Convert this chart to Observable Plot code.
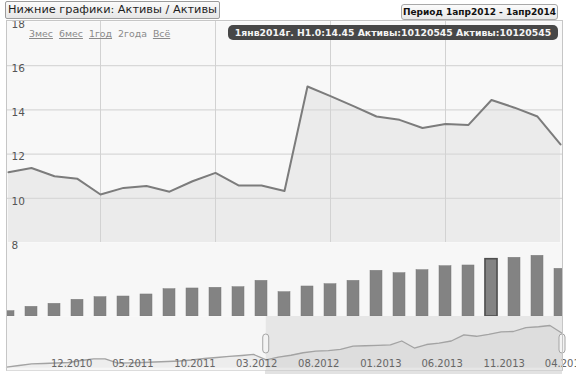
<!DOCTYPE html>
<html><head><meta charset="utf-8">
<script src="https://cdn.jsdelivr.net/npm/d3@7"></script>
<script src="https://cdn.jsdelivr.net/npm/@observablehq/plot@0.6"></script>
<style>
html,body{margin:0;padding:0;background:#fff;overflow:hidden;}
#chart{position:relative;width:576px;height:374px;overflow:hidden;font-family:"DejaVu Sans",Verdana,sans-serif;background:#fff;}
.layer{position:absolute;left:0;}
.layer svg{display:block;}
#frame{position:absolute;left:6px;top:20px;width:555px;height:349px;border:1px solid #c6c6c6;border-bottom-color:#dcdcdc;pointer-events:none;}
#title{position:absolute;left:5px;top:1px;height:16px;padding:0 2px 0 2px;border:1px solid #9c9c9c;border-radius:2px;background:linear-gradient(#fbfbfb,#e6e6e6);font-size:11.3px;line-height:16px;color:#1e1e1e;white-space:nowrap;}
#period{position:absolute;left:401px;top:4px;width:155px;height:14px;border:1px solid #a8a8a8;border-radius:3px;background:linear-gradient(#fbfbfb,#e8e8e8);font-size:9px;font-weight:bold;line-height:14px;text-align:center;color:#111;white-space:nowrap;}
#tip{position:absolute;left:228px;top:25px;width:330px;height:15px;border-radius:5px;background:#474747;color:#f4f4f4;font-size:9.3px;font-weight:bold;line-height:15px;text-align:center;white-space:nowrap;}
#ranges{position:absolute;left:29px;top:28px;font-size:9.4px;line-height:12px;color:#8a8a8a;white-space:nowrap;}
#ranges span{margin-right:6px;text-decoration:underline;}
#ranges span.sel{text-decoration:none;}
#scroll{position:absolute;left:265px;top:370px;width:297px;height:4px;background:#e2e2e2;border-top:1px solid #d2d2d2;}
</style>
</head><body>
<div id="chart"></div>
<script>
// ---- data ----
const months = ["2012-04","2012-05","2012-06","2012-07","2012-08","2012-09","2012-10","2012-11","2012-12",
  "2013-01","2013-02","2013-03","2013-04","2013-05","2013-06","2013-07","2013-08","2013-09","2013-10",
  "2013-11","2013-12","2014-01","2014-02","2014-03","2014-04"];
const h1 = [11.18, 11.37, 11.0, 10.88, 10.17, 10.47, 10.56, 10.3, 10.77, 11.15, 10.58, 10.58, 10.33,
  15.06, 14.62, 14.17, 13.7, 13.55, 13.18, 13.36, 13.32, 14.45, 14.1, 13.7, 12.44];
const assets = [940000, 1710000, 2240000, 2950000, 3410000, 3530000, 3890000, 4820000, 4950000,
  5070000, 5170000, 6300000, 4290000, 5300000, 5700000, 6300000, 8070000, 7650000, 8180000,
  8880000, 9010000, 10120545, 10370000, 10720000, 8420000];
const earlyMonths = ["2010-07","2010-08","2010-09","2010-10","2010-11","2010-12","2011-01","2011-02",
  "2011-03","2011-04","2011-05","2011-06","2011-07","2011-08","2011-09","2011-10","2011-11","2011-12",
  "2012-01","2012-02","2012-03"];
const earlyAssets = [-1170000, -690000, -200000, -110000, 30000, 170000, 740000, 1230000, 1230000,
  -30000, 90000, 170000, 310000, 460000, 600000, 890000, 1310000, 1600000, 1890000, 2170000, 2460000];
const yTicks = [8, 10, 12, 14, 16, 18];
const yGrid = [10, 12, 14, 16];
const xGrid = ["2012-08", "2013-01", "2013-06", "2013-11"];
const navTicks = ["2010-12","2011-05","2011-10","2012-03","2012-08","2013-01","2013-06","2013-11","2014-04"];
const selMonth = "2014-01";
const period = ["2012-04", "2014-04"];
const rangeLinks = ["3мес", "6мес", "1год", "2года", "Всё"];
const selectedRange = "2года";
const titleText = "Нижние графики: Активы / Активы";
const periodText = "Период 1апр2012 - 1апр2014";
const tipText = "1янв2014г. H1.0:14.45 Активы:10120545 Активы:10120545";

// ---- build ----
const rows = months.map((m, i) => ({month: m, h1: h1[i], assets: assets[i]}));
const toDate = s => new Date(s + "-01T00:00:00Z");
const navRows = earlyMonths.map((m, i) => ({date: toDate(m), v: earlyAssets[i]}))
  .concat(months.map((m, i) => ({date: toDate(m), v: assets[i]})));
const W = 576, ML = 6, MR = 14;
const font = {fontFamily: "'DejaVu Sans', Verdana, sans-serif", background: "transparent", overflow: "visible"};
const chart = document.getElementById("chart");
function layer(top, node) {
  const d = document.createElement("div");
  d.className = "layer"; d.style.top = top + "px";
  d.appendChild(node); chart.appendChild(d);
}

// bars panel
const step = (W - ML - MR) / (months.length - 1);
const bars = Plot.plot({
  width: W, height: 74, marginTop: 0, marginBottom: 0, marginLeft: ML, marginRight: MR,
  style: font,
  x: {type: "band", domain: months, range: [ML - step / 2, W - MR + step / 2], paddingInner: 0.48, paddingOuter: 0.24, axis: null},
  y: {domain: [0, 13070000], axis: null},
  marks: [
    Plot.frame({fill: "#f7f7f7"}),
    Plot.barY(rows, {x: "month", y: "assets", fill: "#838383", stroke: "#7a7a7a", strokeWidth: 0.5, clip: true}),
    Plot.barY(rows.filter(d => d.month === selMonth), {x: "month", y: "assets", fill: "#838383", stroke: "#4f4f4f", strokeWidth: 1.6, clip: true})
  ]
});
layer(242, bars);

// navigator
const nav = Plot.plot({
  width: W, height: 54, marginTop: 0, marginBottom: 0, marginLeft: ML, marginRight: MR,
  style: font,
  x: {type: "utc", domain: [toDate(earlyMonths[0]), toDate(months[months.length - 1])], axis: null},
  y: {domain: [-1500000, 11000000], range: [51.86, 8.02], axis: null},
  marks: [
    Plot.frame({fill: "#f6f6f6"}),
    Plot.rect([period], {x1: d => toDate(d[0]), x2: d => toDate(d[1]), fill: "#e6e6e6"}),
    Plot.areaY(navRows, {x: "date", y1: -1500000, y2: "v", fill: "#000", fillOpacity: 0.035, clip: true}),
    Plot.line(navRows, {x: "date", y: "v", stroke: "#a3a3a3", strokeWidth: 1.3}),
    Plot.text(navTicks, {x: d => toDate(d), frameAnchor: "bottom", lineAnchor: "middle", dy: -7, dx: 3,
      text: d => d.slice(5) + "." + d.slice(0, 4), fill: "#666", fontSize: 10}),
    Plot.rect(period, {x1: d => toDate(d), x2: d => toDate(d), insetLeft: -3, insetRight: -3, insetTop: 18, insetBottom: 17,
      rx: 3, fill: "#f3f3f3", stroke: "#a5a5a5", strokeWidth: 1})
  ]
});
layer(316, nav);

// main chart
const main = Plot.plot({
  width: W, height: 250, marginTop: 21, marginBottom: 8, marginLeft: ML, marginRight: MR,
  style: font,
  x: {type: "point", domain: months, padding: 0, axis: null},
  y: {domain: [8, 18], axis: null},
  marks: [
    Plot.frame({fill: "#f8f8f8"}),
    Plot.areaY(rows, {x: "month", y1: 8, y2: "h1", fill: "#ebebeb"}),
    Plot.ruleY(yGrid, {stroke: "#d8d8d8", strokeWidth: 1.2}),
    Plot.ruleX(xGrid, {stroke: "#d2d2d2"}),
    Plot.line(rows, {x: "month", y: "h1", stroke: "#7c7c7c", strokeWidth: 2}),
    Plot.text(yTicks, {y: d => d, frameAnchor: "left", text: d => String(d), textAnchor: "start", dx: 5, dy: 3, fill: "#555", fontSize: 10.5})
  ]
});
layer(0, main);

// chrome
chart.insertAdjacentHTML("beforeend", '<div id="frame"></div><div id="scroll"></div>');
const t = document.createElement("div"); t.id = "title"; t.textContent = titleText; chart.appendChild(t);
const p = document.createElement("div"); p.id = "period"; p.textContent = periodText; chart.appendChild(p);
const tip = document.createElement("div"); tip.id = "tip"; tip.textContent = tipText; chart.appendChild(tip);
const r = document.createElement("div"); r.id = "ranges";
rangeLinks.forEach(s => { const sp = document.createElement("span"); sp.textContent = s; if (s === selectedRange) sp.className = "sel"; r.appendChild(sp); });
chart.appendChild(r);
</script>
</body></html>
